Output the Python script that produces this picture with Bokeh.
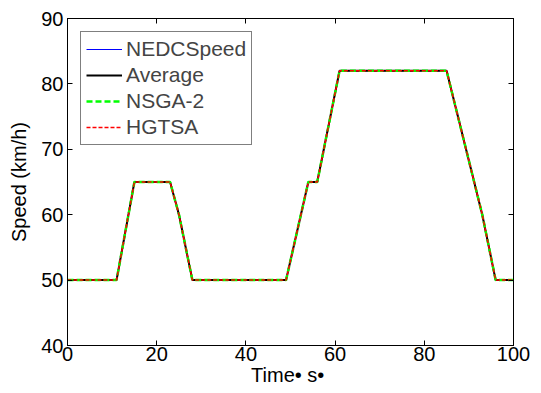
from bokeh.plotting import figure
from bokeh.models import Range1d, LinearAxis, FixedTicker, Legend, LegendItem
from bokeh.embed import file_html
from bokeh.resources import INLINE

# Data
time_s = [0, 11, 15, 23, 25, 28, 49, 54, 56, 61, 85, 93, 96, 100]
nedc_speed = [50, 50, 65, 65, 60, 50, 50, 65, 65, 82, 82, 60, 50, 50]
average = [50, 50, 65, 65, 60, 50, 50, 65, 65, 82, 82, 60, 50, 50]
nsga2 = [50, 50, 65, 65, 60, 50, 50, 65, 65, 82, 82, 60, 50, 50]
hgtsa = [50, 50, 65, 65, 60, 50, 50, 65, 65, 82, 82, 60, 50, 50]
x_ticks = [0, 20, 40, 60, 80, 100]
y_ticks = [40, 50, 60, 70, 80, 90]

FONT = "Liberation Sans"

p = figure(width=541, height=393, output_backend="svg", toolbar_location=None,
           x_range=Range1d(0, 100), y_range=Range1d(40, 90),
           min_border_left=67, min_border_right=28, min_border_top=18, min_border_bottom=48)
p.grid.visible = False
p.outline_line_color = "black"
p.outline_line_width = 1
p.background_fill_color = "white"
p.border_fill_color = "white"

for ax in (p.xaxis[0], p.yaxis[0]):
    ax.major_tick_in = 5
    ax.major_tick_out = 0
    ax.minor_tick_in = 0
    ax.minor_tick_out = 0
    ax.axis_line_color = "black"
    ax.major_label_text_font = FONT
    ax.major_label_text_font_size = "20px"
    ax.major_label_text_color = "black"
    ax.axis_label_text_font = FONT
    ax.axis_label_text_font_size = "20px"
    ax.axis_label_text_font_style = "normal"
    ax.axis_label_text_color = "black"

p.xaxis[0].ticker = FixedTicker(ticks=x_ticks)
p.yaxis[0].ticker = FixedTicker(ticks=y_ticks)
p.xaxis[0].major_label_standoff = 1
p.yaxis[0].major_label_standoff = 4
p.xaxis[0].axis_label = "Time\u2022  s\u2022"
p.yaxis[0].axis_label = "Speed (km/h)"
p.xaxis[0].axis_label_standoff = 0
p.yaxis[0].axis_label_standoff = 8

top = LinearAxis(ticker=FixedTicker(ticks=x_ticks),
                 major_label_overrides={t: "" for t in x_ticks},
                 major_label_standoff=0,
                 major_tick_in=5, major_tick_out=0, minor_tick_in=0, minor_tick_out=0)
right = LinearAxis(ticker=FixedTicker(ticks=y_ticks),
                   major_label_overrides={t: "" for t in y_ticks},
                   major_label_standoff=0,
                   major_tick_in=5, major_tick_out=0, minor_tick_in=0, minor_tick_out=0)
p.add_layout(top, "above")
p.add_layout(right, "right")

r1 = p.line(time_s, nedc_speed, line_color="#0000ff", line_width=1)
r2 = p.line(time_s, average, line_color="black", line_width=2)
r3 = p.line(time_s, nsga2, line_color="#00ff00", line_width=2.5, line_dash="6 3")
r4 = p.line(time_s, hgtsa, line_color="#ff0000", line_width=1.5, line_dash="4 2")

legend = Legend(items=[LegendItem(label="NEDCSpeed", renderers=[r1]),
                       LegendItem(label="Average", renderers=[r2]),
                       LegendItem(label="NSGA-2", renderers=[r3]),
                       LegendItem(label="HGTSA", renderers=[r4])],
                location="top_left")
legend.label_text_font = FONT
legend.label_text_font_size = "21px"
legend.label_height = 22
legend.glyph_height = 22
legend.glyph_width = 36
legend.spacing = 2
legend.padding = 5
legend.margin = 13
legend.label_standoff = 4
legend.border_line_color = "black"
legend.border_line_width = 1
legend.background_fill_alpha = 1
p.add_layout(legend)

open("out.html", "w").write(file_html(p, INLINE))
